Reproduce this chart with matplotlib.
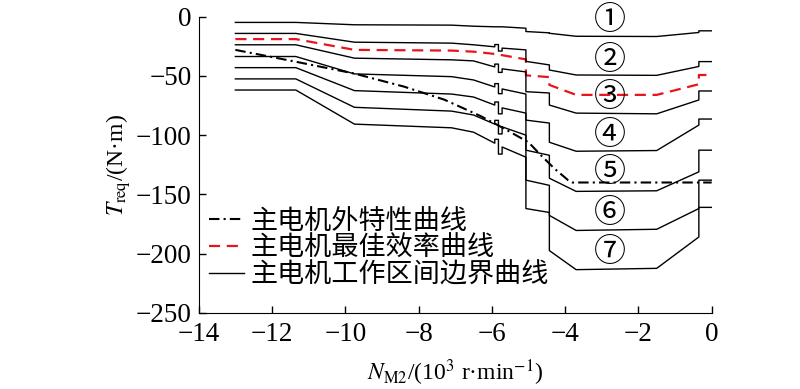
import matplotlib
matplotlib.use("Agg")
import matplotlib.pyplot as plt

plt.rcParams['font.family'] = ['Liberation Serif', 'DejaVu Serif']
plt.rcParams['mathtext.fontset'] = 'stix'

# shared speed knots for the boundary curves (10^3 r/min)
speed = [-13, -11.35, -9.75, -7.1, -6.5, -5.92, -5.92, -5.82, -5.82, -5.72, -5.72,
         -5.07, -5.07, -4.43, -4.43, -3.7, -1.5, -0.35, -0.35, 0]

# working-area boundary curves 1..7 (N*m)
curve1 = [-4.8, -4.8, -6.8, -7.1, -8, -8.5, -8.5, -8.5, -8.5, -8.5, -8.5,
          -9.7, -12.5, -13.6, -14, -16.5, -16.7, -13.3, -11.9, -11.9]
curve2 = [-14.1, -14.1, -21.5, -22.3, -23.7, -25.4, -23.5, -23.5, -29, -29, -26.5,
          -28, -37.7, -40.7, -45, -49.2, -49.5, -42, -37.9, -37.9]
curve3 = [-23.7, -23.7, -35, -36.4, -37.3, -42.4, -40, -40, -47, -47, -44,
          -46.6, -63.3, -64.4, -74.6, -81.4, -82, -70.3, -62.7, -62.7]
curve4 = [-33.6, -33.6, -48.3, -50.6, -53.4, -59.3, -56.5, -56.5, -65, -65, -61,
          -65.3, -87.3, -89.8, -106, -113.6, -113, -91.5, -86.4, -86.4]
curve5 = [-43, -43, -62.4, -65.3, -67.8, -74.6, -72, -72, -82, -82, -77,
          -81.4, -112.7, -117, -136.4, -147.5, -147, -131, -112.7, -112.7]
curve6 = [-52.5, -52.5, -76.5, -79.7, -83, -90.7, -87.5, -87.5, -99, -99, -93,
          -100, -138, -142.4, -167.8, -180.5, -179.5, -162, -138, -138]
curve7 = [-61.9, -61.9, -90.7, -93.8, -97.5, -106.8, -103.5, -103.5, -116, -116, -110,
          -118.6, -162, -165.3, -197.5, -213.6, -212.5, -186, -161, -161]
boundaries = [curve1, curve2, curve3, curve4, curve5, curve6, curve7]

# best efficiency curve
best_speed = [-13, -11.35, -9.75, -7.1, -6.5, -5.9, -5.07, -5.07, -4.43, -4.43,
              -3.7, -1.5, -0.35, -0.35, 0]
best_torque = [-18.9, -18.9, -28, -28.6, -29.5, -31.5, -36, -49.5, -51, -57.6,
               -66, -66, -57, -49.2, -49.2]

# external characteristic curve
ext_speed = [-13, -11.35, -9.75, -8.4, -7.3, -6.3, -5.75, -5.0, -4.66, -4.3, -3.92, -3.8, 0]
ext_torque = [-28, -38, -48, -59, -70, -84, -93, -106, -117, -128, -138, -140, -140]

region_labels = ['①', '②', '③', '④', '⑤', '⑥', '⑦']
region_y = [-2.5, -36.4, -67.8, -100, -131.4, -166, -199]
region_x = -2.78

fig = plt.figure(figsize=(8, 3.89), dpi=100)
ax = fig.add_axes([0.2484, 0.196, 0.6412, 0.761])

ax.plot(ext_speed, ext_torque, color='black', lw=1.5, linestyle=(0, (5, 2, 1, 2)),
        label='主电机外特性曲线')
ax.plot(best_speed, best_torque, color='#e8141b', lw=1.6, linestyle=(0, (5, 3)),
        label='主电机最佳效率曲线')
for i, c in enumerate(boundaries):
    ax.plot(speed, c, color='black', lw=1.0,
            label='主电机工作区间边界曲线' if i == 0 else None)

for lab, yy in zip(region_labels, region_y):
    ax.text(region_x, yy, lab, ha='center', va='center', fontsize=23,
            family=['Noto Sans CJK SC', 'DejaVu Sans'])

ax.set_xlim(-14, 0)
ax.set_ylim(-250, 0)
ax.set_xticks(range(-14, 1, 2))
ax.set_yticks(range(-250, 1, 50))
ax.tick_params(direction='in', length=5, width=1, labelsize=19.5)
ax.tick_params(axis='x', pad=7)
ax.tick_params(axis='y', pad=5)
ax.spines['top'].set_visible(False)
ax.spines['right'].set_visible(False)

ax.set_xlabel(r'$N_{\rm M2}$/(10$^3$ r·min$^{-1}$)', fontsize=17, labelpad=7)
ax.set_ylabel(r'$T_{\rm req}$/(N·m)', fontsize=17, labelpad=2)

leg = ax.legend(loc='upper left', bbox_to_anchor=(0.02, 0.355), frameon=False,
                prop={'family': ['Noto Sans CJK SC', 'DejaVu Sans'], 'size': 19.5},
                handlelength=1.3, handletextpad=0.25, labelspacing=0.0,
                borderpad=0, borderaxespad=0)

fig.savefig('out.png', dpi=100)
